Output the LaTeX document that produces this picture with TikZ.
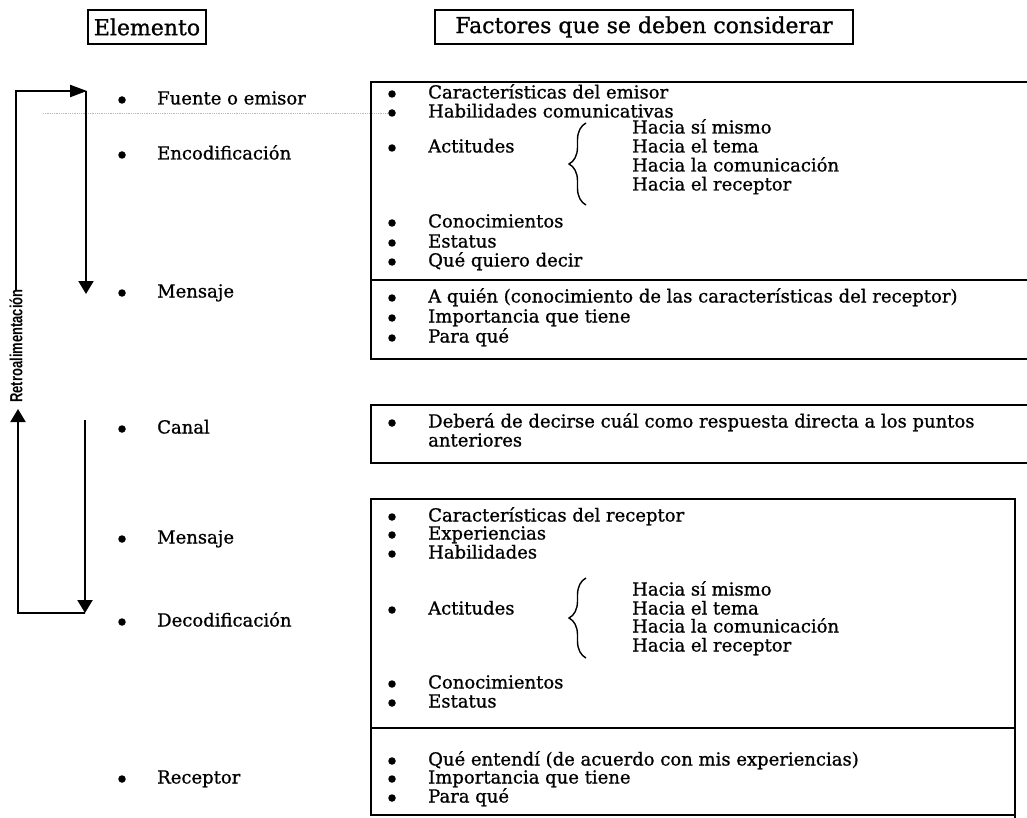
\documentclass[tikz,border=0pt]{standalone}
\usepackage{fontspec}
\setmainfont{DejaVu Serif}[FakeBold=0.9]
\newfontfamily\labelsans{Liberation Sans}
\usetikzlibrary{arrows.meta,decorations.pathreplacing}
\newcommand{\bitem}[5]{%
  \node[bul] (#1b) at (#2,#4) {};
  \node[txt] (#1) at (#3,#4) {#5};}
\begin{document}
\begin{tikzpicture}[x=1pt,y=-1pt,
  txt/.style={anchor=west, inner sep=0pt, text height=13pt, text depth=4pt,
    font=\fontsize{18}{20}\selectfont},
  bul/.style={circle, fill=black, inner sep=0pt, minimum size=7.5pt},
  hdr/.style={draw, line width=1.6pt, inner sep=0pt,
    font=\fontsize{22}{24}\selectfont},
  boxline/.style={line width=1.7pt},
  arrH/.style={line width=2.2pt, -{Triangle[length=17pt,width=12pt]}},
  arrV/.style={line width=2.2pt, -{Triangle[length=13pt,width=15pt]}},
  brc/.style={line width=1.4pt, decorate, decoration={brace, amplitude=17pt}}]
\useasboundingbox (0,0) rectangle (1027,818);
\fill[white] (0,0) rectangle (1027,818);

% headers
\node[hdr, minimum width=118pt, minimum height=34pt] (elem) at (147,27) {Elemento};
\node[hdr, minimum width=418pt, minimum height=34pt] (fact) at (644,27) {Factores que se deben considerar};

% faint scan line
\draw[gray!55, densely dotted, line width=0.8pt] (43,113) -- (392,113);

% left column
\bitem{fuente}{122}{157}{100}{Fuente o emisor}
\bitem{enco}{122}{157}{155}{Encodificación}
\bitem{mens}{122}{157}{293}{Mensaje}
\bitem{canal}{122}{157}{429}{Canal}
\bitem{mensb}{122}{157}{539}{Mensaje}
\bitem{deco}{122}{157}{622}{Decodificación}
\bitem{recep}{122}{157}{779}{Receptor}

% top box
\draw[boxline] (1027,82) -- (371,82) -- (371,359) -- (1027,359);
\draw[boxline] (371,280) -- (1027,280);
\bitem{t1}{392}{428}{94}{Características del emisor}
\bitem{t2}{392}{428}{113}{Habilidades comunicativas}
\bitem{t3}{392}{428}{148}{Actitudes}
\node[txt] (h1) at (632,129) {Hacia sí mismo};
\node[txt] (h2) at (632,148) {Hacia el tema};
\node[txt] (h3) at (632,167) {Hacia la comunicación};
\node[txt] (h4) at (632,186) {Hacia el receptor};
\draw[brc] (586,205) -- (586,123);
\bitem{t4}{392}{428}{223}{Conocimientos}
\bitem{t5}{392}{428}{243}{Estatus}
\bitem{t6}{392}{428}{262}{Qué quiero decir}
\bitem{t7}{392}{428}{298}{A quién (conocimiento de las características del receptor)}
\bitem{t8}{392}{428}{318}{Importancia que tiene}
\bitem{t9}{392}{428}{338}{Para qué}

% canal box
\draw[boxline] (1027,405) -- (371,405) -- (371,463) -- (1027,463);
\bitem{c1}{392}{428}{423}{Deberá de decirse cuál como respuesta directa a los puntos}
\node[txt] (c2) at (428,442) {anteriores};

% bottom box
\draw[boxline] (371,499) rectangle (1015,815);
\draw[boxline] (1015,815) -- (1015,818);
\draw[boxline] (371,728) -- (1015,728);
\bitem{b1}{392}{428}{517}{Características del receptor}
\bitem{b2}{392}{428}{535}{Experiencias}
\bitem{b3}{392}{428}{554}{Habilidades}
\bitem{b4}{392}{428}{610}{Actitudes}
\node[txt] (g1) at (632,591) {Hacia sí mismo};
\node[txt] (g2) at (632,610) {Hacia el tema};
\node[txt] (g3) at (632,628) {Hacia la comunicación};
\node[txt] (g4) at (632,647) {Hacia el receptor};
\draw[brc] (586,658) -- (586,578);
\bitem{b5}{392}{428}{684}{Conocimientos}
\bitem{b6}{392}{428}{703}{Estatus}
\bitem{b7}{392}{428}{761}{Qué entendí (de acuerdo con mis experiencias)}
\bitem{b8}{392}{428}{779}{Importancia que tiene}
\bitem{b9}{392}{428}{798}{Para qué}

% feedback arrows
\node[rotate=90, inner sep=0pt, font=\labelsans\bfseries\fontsize{13}{14}\selectfont] (retro) at (16,346) {\scalebox{1}[1.35]{Retroalimentación}};
\coordinate (p1) at (19,91);
\coordinate (p2) at (87,91);
\coordinate (p3) at (86,294);
\coordinate (q1) at (18,613);
\coordinate (q2) at (85,613);
\coordinate (q3) at (85,420);
\coordinate (q4) at (18,409);
\draw[arrH] ([yshift=-2pt]retro.east) -- (retro.east |- p1) -- (p2);
\draw[arrV] (p2) ++(-1,0) -- (p3);
\draw[arrV] (q3) -- (q2);
\draw[arrV] (q2) -- (q1) -- (q4);
\end{tikzpicture}
\end{document}
